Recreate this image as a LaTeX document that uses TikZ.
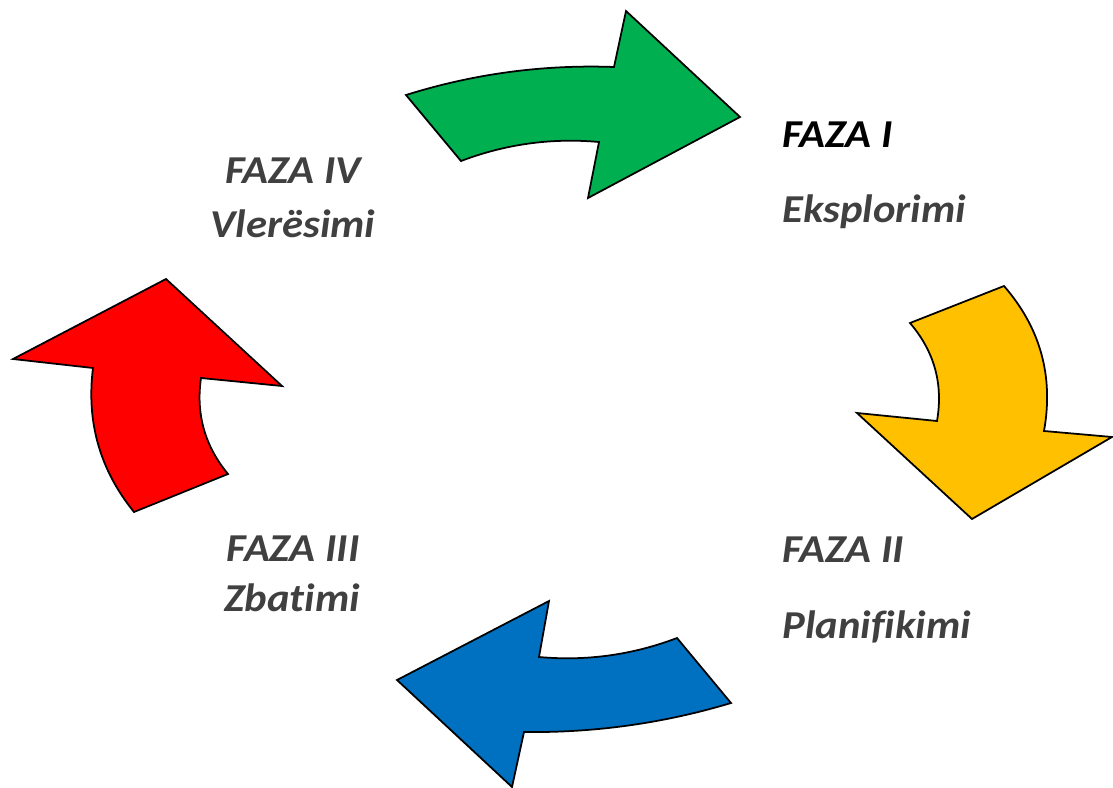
\documentclass[tikz,border=0pt]{standalone}
\usepackage{fontspec}
\setmainfont{Carlito}[FakeStretch=1.08,Ligatures=NoCommon]
\definecolor{phgreen}{HTML}{00B050}
\definecolor{phyellow}{HTML}{FFC000}
\definecolor{phblue}{HTML}{0070C0}
\definecolor{phred}{HTML}{FF0000}
\definecolor{phtext}{HTML}{404040}
\begin{document}
\begin{tikzpicture}[x=0.02cm,y=-0.02cm]
  \tikzstyle{bigarrow}=[draw=black,line width=1pt,line join=miter]
  \tikzstyle{phase}=[inner sep=0pt,text=phtext,font=\fontsize{22.5}{26}\selectfont\bfseries\itshape]

  \useasboundingbox (0,0) rectangle (1113,788);

  % green arrow, top
  \fill[bigarrow,fill=phgreen] (406,95) .. controls (473.7,73.8) and (543.1,64.4) .. (614,67)
    -- (626,11) -- (740,117) -- (588,198) -- (599,142)
    .. controls (551.5,137.7) and (505.5,144.1) .. (461,161) -- cycle;

  % yellow arrow, right
  \fill[bigarrow,fill=phyellow] (1004,286) -- (910,323)
    .. controls (934.4,351.5) and (943.4,384.1) .. (937,421)
    -- (857,413) -- (972,519) -- (1112,437) -- (1044,431)
    .. controls (1053.8,376.3) and (1040.4,327.9) .. cycle;

  % blue arrow, bottom
  \fill[bigarrow,fill=phblue] (397,680) -- (549,601) -- (539,657)
    .. controls (586.5,661.3) and (632.5,654.9) .. (677,638) -- (731,703)
    .. controls (663.5,723.3) and (594.5,732.9) .. (524,732) -- (512,787) -- cycle;

  % red arrow, left
  \fill[bigarrow,fill=phred] (166,279) -- (282,386) -- (201,378)
    .. controls (195.8,414) and (204.8,446) .. (228,474) -- (134,512)
    .. controls (99.8,469.8) and (86.2,421.8) .. (93,368) -- (13,359) -- cycle;

  \node[phase,anchor=base west,text=black] (F-1) at (782,147) {FAZA I};
  \node[phase,anchor=base west] (F-1-name) at (782,222) {Eksplorimi};
  \node[phase,anchor=base west] (F-2) at (782,562) {FAZA II};
  \node[phase,anchor=base west] (F-2-name) at (782,638) {Planifikimi};
  \node[phase,anchor=base] (F-3) at (293,561) {FAZA III};
  \node[phase,anchor=base] (F-3-name) at (292,611) {Zbatimi};
  \node[phase,anchor=base] (F-4) at (293,183) {FAZA IV};
  \node[phase,anchor=base] (F-4-name) at (293,237) {Vlerësimi};

\end{tikzpicture}
\end{document}
